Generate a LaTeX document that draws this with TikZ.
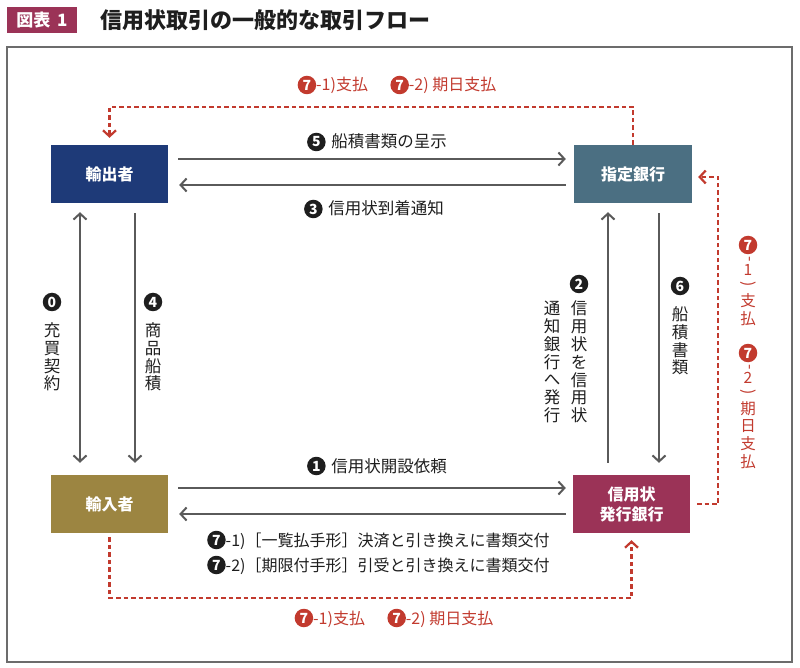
\documentclass[tikz,border=0pt]{standalone}
\usepackage{fontspec}
\usepackage{graphicx}
\setmainfont{Noto Sans CJK JP}
\newfontfamily\dv{DejaVu Sans}
\usetikzlibrary{arrows.meta}
\definecolor{cnavy}{RGB}{30,58,120}
\definecolor{cteal}{RGB}{75,111,130}
\definecolor{colive}{RGB}{156,133,65}
\definecolor{cmaroon}{RGB}{155,51,87}
\definecolor{cred}{RGB}{194,58,46}
\definecolor{cgray}{RGB}{90,90,90}
\definecolor{ctext}{RGB}{30,30,30}
\newcommand\cnum[2][ctext]{\tikz[baseline={(0pt,-6pt)}]\node[circle,fill=#1,text=white,inner sep=0pt,minimum size=18.5pt,font=\fontsize{14}{14}\selectfont\bfseries] at (0,0) {#2};}
\newcommand\rv{\rotatebox[origin=c]{-90}}
\begin{document}
\begin{tikzpicture}[x=1pt,y=-1pt,
  box/.style={draw=none,minimum width=117pt,minimum height=58pt,inner sep=0pt,
    text=white,align=center,font=\fontsize{16}{20}\selectfont\bfseries},
  garrow/.style={draw=cgray,line width=2pt,-{Straight Barb[length=6pt,width=13pt]}},
  garrow2/.style={draw=cgray,line width=2pt,{Straight Barb[length=6pt,width=13pt]}-{Straight Barb[length=6pt,width=13pt]}},
  rdash/.style={draw=cred,line width=2.2pt,dash pattern=on 4.5pt off 3pt,-{Straight Barb[length=6pt,width=13pt]}},
  lbl/.style={text=ctext,inner sep=0pt,font=\fontsize{16.5}{18}\selectfont},
  slbl/.style={text=ctext,inner sep=0pt,font=\fontsize{16}{18}\selectfont},
  vl/.style={text=ctext,inner sep=0pt,align=center,font=\fontsize{16.5}{17.8}\selectfont},
  rl/.style={text=cred,inner sep=0pt,font=\fontsize{16}{18}\selectfont},
  rvl/.style={text=cred,inner sep=0pt,align=center,font=\fontsize{15.5}{14}\selectfont},
]
\useasboundingbox (0,0) rectangle (800,668);
\fill[white] (0,0) rectangle (800,668);
\draw[draw=gray!85!black,line width=1.5pt] (7,47) rectangle (792,662);

% title
\node[fill=cmaroon,text=white,minimum width=70pt,minimum height=26pt,inner sep=0pt,
  font=\fontsize{17}{20}\selectfont\bfseries] (badge) at (42,20) {図表\hspace{0.4em}1};
\node[anchor=west,inner sep=0pt,text=ctext,font=\fontsize{22}{26}\selectfont\bfseries] (title) at (100,20) {信用状取引の一般的な取引フロー};

% boxes
\node[box,fill=cnavy] (exp) at (109.5,174) {輸出者};
\node[box,fill=cteal,minimum width=118pt] (des) at (633,174) {指定銀行};
\node[box,fill=colive] (imp) at (109.5,504) {輸入者};
\node[box,fill=cmaroon] (iss) at (631.5,504) {信用状\\発行銀行};

% horizontal arrows
\draw[garrow] ([xshift=10pt,yshift=15pt]exp.east) -- ([xshift=-8pt,yshift=15pt]des.west);
\draw[garrow] ([xshift=-8pt,yshift=-11pt]des.west) -- ([xshift=11pt,yshift=-11pt]exp.east);
\draw[garrow] ([xshift=10pt,yshift=16pt]imp.east) -- ([xshift=-7pt,yshift=16pt]iss.west);
\draw[garrow] ([xshift=-7pt,yshift=-10pt]iss.west) -- ([xshift=11pt,yshift=-10pt]imp.east);

% vertical arrows
\draw[garrow2] ([xshift=-29.5pt,yshift=-9pt]exp.south) -- ([xshift=-29.5pt,yshift=12pt]imp.north);
\draw[garrow] ([xshift=25.5pt,yshift=-10pt]exp.south) -- ([xshift=25.5pt,yshift=12pt]imp.north);
\draw[garrow] ([xshift=-23.5pt,yshift=12pt]iss.north) -- ([xshift=-25pt,yshift=-9pt]des.south);
\draw[garrow] ([xshift=26pt,yshift=-10pt]des.south) -- ([xshift=27.5pt,yshift=12pt]iss.north);

% red dashed connectors
\draw[rdash] (des.north) -- ++(0,-38) -| ([yshift=7pt]exp.north);
\draw[rdash] ([xshift=7pt]iss.east) -- ++(21,0) |- ([xshift=6pt,yshift=-3pt]des.east);
\draw[rdash] ([yshift=-4pt]imp.south) -- ++(0,61) -| ([yshift=-7pt]iss.south);

% horizontal labels
\node[lbl] (l5) at (377,142) {\cnum{5}\hspace{0.35em}船積書類の呈示};
\node[lbl] (l3) at (374,209) {\cnum{3}\hspace{0.35em}信用状到着通知};
\node[lbl] (l1) at (377,466) {\cnum{1}\hspace{0.35em}信用状開設依頼};
\node[slbl,anchor=west] (l71) at (207,540) {\cnum{7}-1)［一覧払手形］決済と引き換えに書類交付};
\node[slbl,anchor=west] (l72) at (207,565) {\cnum{7}-2)［期限付手形］引受と引き換えに書類交付};

\node[rl] (rt) at (397,85) {\cnum[cred]{7}-1)支払\hspace{1.4em}\cnum[cred]{7}-2) 期日支払};
\node[rl] (rb) at (394,618) {\cnum[cred]{7}-1)支払\hspace{1.4em}\cnum[cred]{7}-2) 期日支払};

% vertical labels
\node[vl] (n0) at (52,302) {\cnum{0}};
\node[vl] (v0) at (52,357) {充\\買\\契\\約};
\node[vl] (n4) at (153,302) {\cnum{4}};
\node[vl] (v4) at (153,357) {商\\品\\船\\積};
\node[vl] (n2) at (579,284) {\cnum{2}};
\node[vl] (v2a) at (579,362) {信\\用\\状\\を\\信\\用\\状};
\node[vl] (v2b) at (552,362) {通\\知\\銀\\行\\へ\\発\\行};
\node[vl] (n6) at (680,286) {\cnum{6}};
\node[vl] (v6) at (680,341) {船\\積\\書\\類};

\node[rvl] (n71) at (748,245) {\cnum[cred]{7}};
\node[rvl,anchor=north] (r71) at (748,256) {\rv{-}\\1\\\rv{)}\\[3pt]支\\[3pt]払};
\node[rvl] (n72) at (748,353) {\cnum[cred]{7}};
\node[rvl,anchor=north] (r72) at (748,364) {\rv{-}\\2\\\rv{)}\\[3pt]期\\[3pt]日\\[3pt]支\\[3pt]払};
\end{tikzpicture}
\end{document}
